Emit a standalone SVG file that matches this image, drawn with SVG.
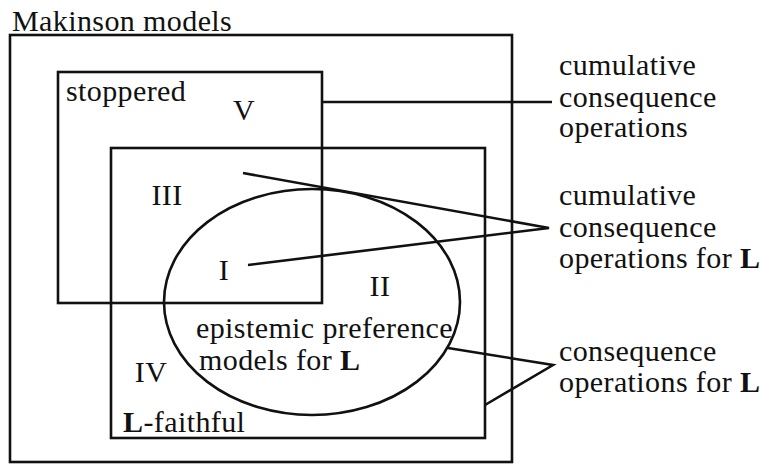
<svg xmlns="http://www.w3.org/2000/svg" width="767" height="464" viewBox="0 0 767 464">
<style>
.b{fill:none;stroke:#111;stroke-width:2.6}
.t{font-family:"Liberation Serif","Times New Roman","DejaVu Serif","Noto Serif",serif;font-size:30px;letter-spacing:0.4px;fill:#111}
.bold{font-weight:bold}
</style>
<rect width="767" height="464" fill="#fff"/>
<g id="makinson">
<rect class="b" x="10" y="35" width="502" height="427"/>
<text class="t" x="12" y="31">Makinson models</text>
</g>
<g id="stoppered">
<rect class="b" x="58" y="72" width="264" height="231"/>
<text class="t" x="66" y="101">stoppered</text>
<text class="t" x="244" y="120" text-anchor="middle">V</text>
</g>
<g id="faithful">
<rect class="b" x="111" y="148" width="374" height="290"/>
<text class="t" x="123" y="432"><tspan class="bold">L</tspan>-faithful</text>
<text class="t" x="167" y="205" text-anchor="middle">III</text>
<text class="t" x="151" y="382" text-anchor="middle">IV</text>
</g>
<g id="epistemic">
<ellipse class="b" cx="312" cy="302" rx="148" ry="113"/>
<text class="t" x="224" y="280" text-anchor="middle">I</text>
<text class="t" x="380" y="296" text-anchor="middle">II</text>
<text class="t" x="196" y="338">epistemic preference</text>
<text class="t" x="199" y="370">models for <tspan class="bold">L</tspan></text>
</g>
<g id="label-cumulative">
<text class="t" x="559" y="75">cumulative</text>
<text class="t" x="559" y="107">consequence</text>
<text class="t" x="559" y="137">operations</text>
</g>
<g id="label-cumulative-L">
<text class="t" x="559" y="205">cumulative</text>
<text class="t" x="559" y="237">consequence</text>
<text class="t" x="559" y="268">operations for <tspan class="bold">L</tspan></text>
</g>
<g id="label-consequence-L">
<text class="t" x="559" y="361">consequence</text>
<text class="t" x="559" y="392">operations for <tspan class="bold">L</tspan></text>
</g>
<g id="connectors" class="b">
<path class="b" d="M322 102 H552"/>
<path class="b" d="M243 173 L549 228 L248 265"/>
<path class="b" d="M448 348 L553 365 L485 405"/>
</g>
</svg>
